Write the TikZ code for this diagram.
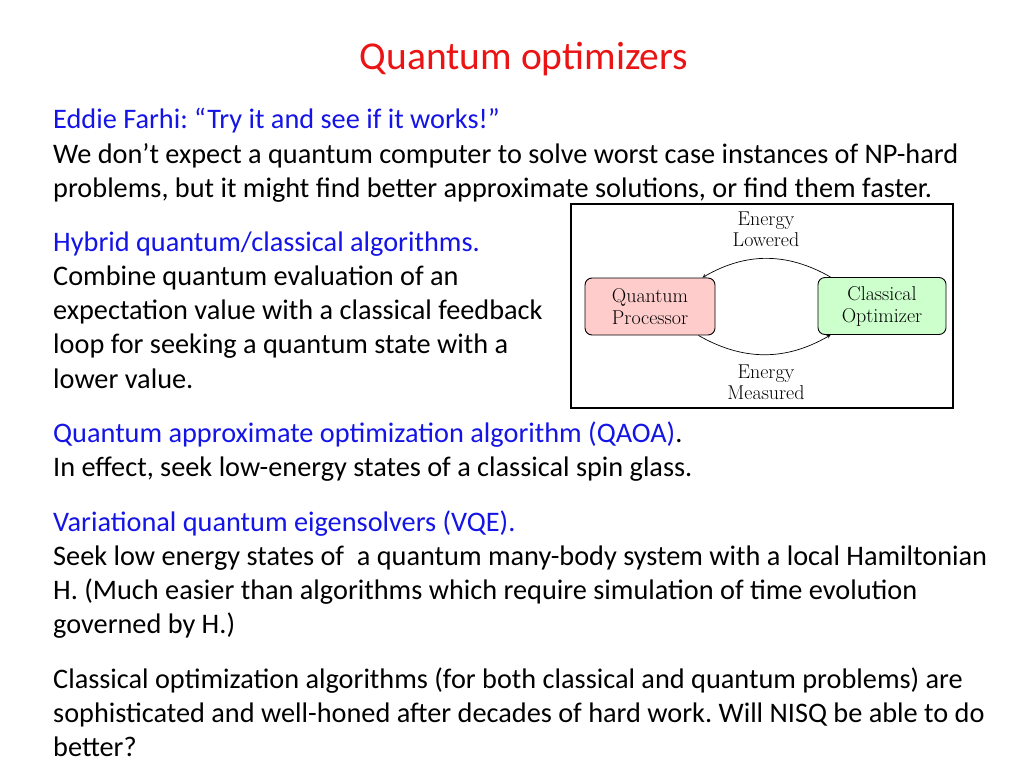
\documentclass[tikz,border=0pt]{standalone}
\usepackage{fontspec}
\setmainfont{Carlito}
\newfontfamily\lmfont{Latin Modern Roman}
\definecolor{tblue}{RGB}{20,20,230}
\definecolor{tred}{RGB}{235,20,20}
\definecolor{qred}{RGB}{255,204,204}
\definecolor{cgreen}{RGB}{204,255,204}
\begin{document}
\frenchspacing
\begin{tikzpicture}[x=1pt,y=-1pt,
 line/.style={anchor=base west,inner sep=0,font=\fontsize{28.3}{28}\selectfont},
 blue/.style={line,text=tblue},
 box/.style={draw,line width=0.9pt,rounded corners=7pt,minimum width=130pt,minimum height=57pt,align=center,font=\lmfont\fontsize{20}{22}\selectfont,inner sep=0},
 lab/.style={align=center,font=\lmfont\fontsize{20}{21}\selectfont,inner sep=0},
 arr/.style={->,>=stealth,line width=0.7pt}]
\useasboundingbox (0,0) rectangle (1024,768);
\node[text=tred,font=\fontsize{39.5}{40}\selectfont,inner sep=0] (title) at (524,59) {Quantum optimizers};
\node[blue] (l1) at (53,128) {Eddie Farhi: “Try it and see if it works!”};
\node[line] (l2) at (53,163) {We don’t expect a quantum computer to solve worst case instances of NP-hard};
\node[line] (l3) at (53,197) {problems, but it might find better approximate solutions, or find them faster.};
\node[blue] (l4) at (53,251) {Hybrid quantum/classical algorithms.};
\node[line] (l5) at (53,285) {Combine quantum evaluation of an};
\node[line] (l6) at (53,319) {expectation value with a classical feedback};
\node[line] (l7) at (53,353) {loop for seeking a quantum state with a};
\node[line] (l8) at (53,388) {lower value.};
\node[line] (l9) at (53,442) {\textcolor{tblue}{Quantum approximate optimization algorithm (QAOA)}.};
\node[line] (l10) at (53,476) {In effect, seek low-energy states of a classical spin glass.};
\node[blue] (l11) at (53,531) {Variational quantum eigensolvers (VQE).};
\node[line] (l12) at (53,565) {Seek low energy states of\ \ a quantum many-body system with a local Hamiltonian};
\node[line] (l13) at (53,599) {H. (Much easier than algorithms which require simulation of time evolution};
\node[line] (l14) at (53,633) {governed by H.)};
\node[line] (l15) at (53,688) {Classical optimization algorithms (for both classical and quantum problems) are};
\node[line] (l16) at (53,722) {sophisticated and well-honed after decades of hard work. Will NISQ be able to do};
\node[line] (l17) at (53,756) {better?};
\draw[line width=1.2pt] (571,204) rectangle (953,408);
\node[box,fill=qred] (qp) at (650,306.5) {Quantum\\Processor};
\node[box,fill=cgreen,minimum width=128pt] (co) at (882,306) {Classical\\Optimizer};
\node[lab] (el) at (766,229) {Energy\\Lowered};
\node[lab] (em) at (766,382) {Energy\\Measured};
\draw[arr] ([xshift=13pt]co.north west) to[bend right=30] ([xshift=-13pt]qp.north east);
\draw[arr] ([xshift=-17pt]qp.south east) to[bend right=30] ([xshift=13pt]co.south west);
\end{tikzpicture}
\end{document}
